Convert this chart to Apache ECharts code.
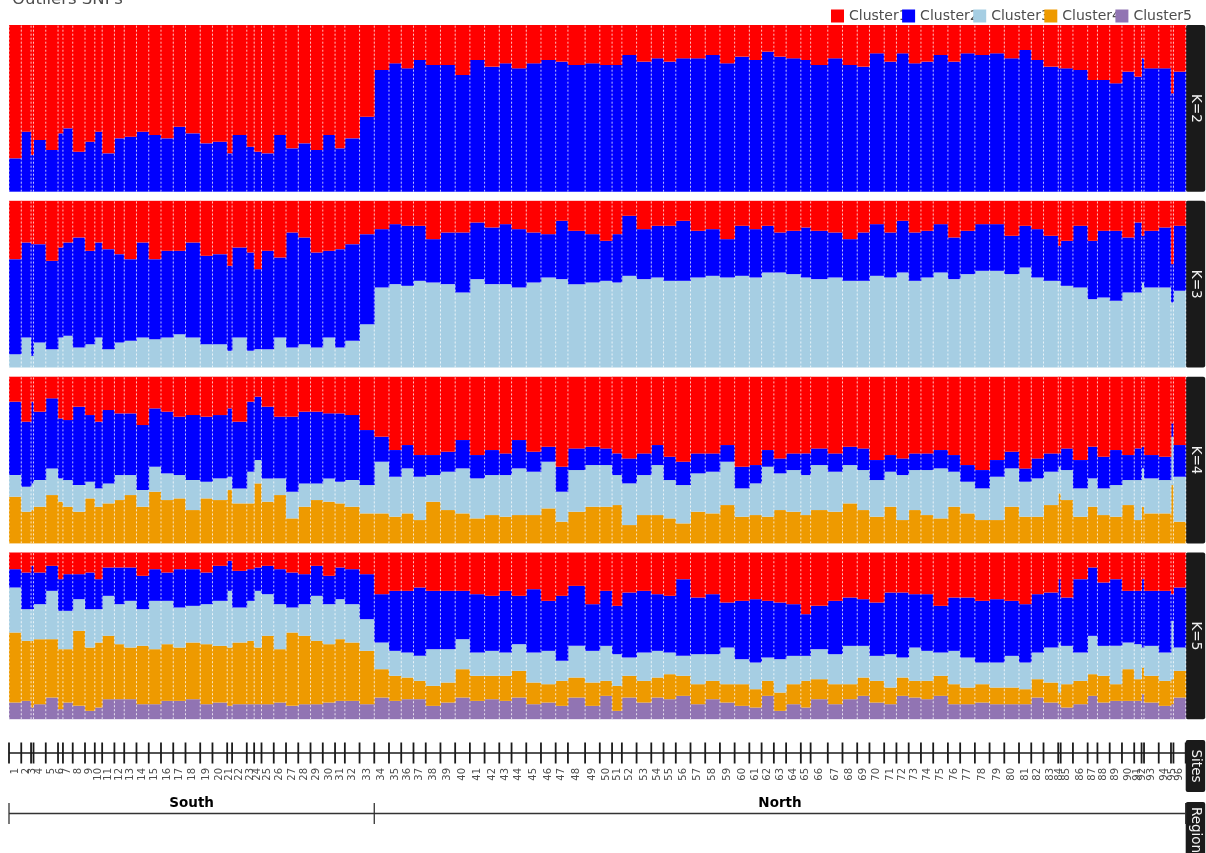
<!DOCTYPE html>
<html>
<head>
<meta charset="utf-8">
<script src="https://cdn.jsdelivr.net/npm/echarts@6/dist/echarts.min.js"></script>
<style>
  html, body { margin: 0; padding: 0; background: #ffffff; }
  #chart { width: 1206px; height: 853px; }
</style>
</head>
<body>
<div id="chart"></div>
<script>
// ---- Sites, sample sizes and regions ----
const siteLabels = ['1','2','3','4','5','6','7','8','9','10','11','12','13','14','15','16','17','18','19','20',
  '21','22','23','24','25','26','27','28','29','30','31','32','33','34','35','36','37','38','39','40',
  '41','42','43','44','45','46','47','48','49','50','51','52','53','54','55','56','57','58','59','60',
  '61','62','63','64','65','66','67','68','69','70','71','72','73','74','75','76','77','78','79','80',
  '81','82','83','84','85','86','87','88','89','90','91','92','93','94','95','96'];

// individuals sampled per site
const sampleSize = [5,4,1,5,5,2,4,5,4,3, 5,4,5,5,5,5,5,6,5,6, 2,6,3,3,5,5,5,5,5,5,
  4,6,6,6,5,5,5,6,6,6, 6,6,5,6,6,6,5,7,6,5, 4,6,6,5,5,6,6,6,6,6,
  5,5,5,6,4,7,6,6,5,6, 5,5,5,5,6,5,6,6,6,6, 5,5,6,1,5,6,4,5,5,5, 3,1,6,5,1,5];

const regionNames = ['South', 'North'];
const regionSiteCount = [33, 63];

const clusterNames = ['Cluster1', 'Cluster2', 'Cluster3', 'Cluster4', 'Cluster5'];
const panelLabels = ['K=2', 'K=3', 'K=4', 'K=5'];

// ---- Ancestry proportions per site ----
// K = 2
const k2Cluster1 = [.80,.64,.78,.69,.75,.65,.62,.76,.70,.64, .77,.68,.67,.64,.66,.68,.61,.65,.71,.70,
  .77,.66,.73,.76,.77,.66,.74,.71,.75,.66, .74,.68,.55,.27,.23,.26,.21,.24,.24,.30,
  .21,.25,.23,.26,.23,.21,.22,.24,.23,.24, .24,.18,.22,.20,.22,.20,.20,.18,.23,.19,
  .21,.16,.19,.20,.21,.24,.20,.24,.25,.17, .22,.17,.23,.22,.18,.22,.17,.18,.17,.20,
  .15,.21,.25,.26,.26,.27,.33,.33,.35,.28, .31,.20,.26,.26,.41,.28];
const k2Cluster2 = [.20,.36,.22,.31,.25,.35,.38,.24,.30,.36, .23,.32,.33,.36,.34,.32,.39,.35,.29,.30,
  .23,.34,.27,.24,.23,.34,.26,.29,.25,.34, .26,.32,.45,.73,.77,.74,.79,.76,.76,.70,
  .79,.75,.77,.74,.77,.79,.78,.76,.77,.76, .76,.82,.78,.80,.78,.80,.80,.82,.77,.81,
  .79,.84,.81,.80,.79,.76,.80,.76,.75,.83, .78,.83,.77,.78,.82,.78,.83,.82,.83,.80,
  .85,.79,.75,.74,.74,.73,.67,.67,.65,.72, .69,.80,.74,.74,.59,.72];

// K = 3
const k3Cluster1 = [.35,.25,.26,.26,.36,.28,.25,.22,.30,.25, .29,.32,.35,.25,.35,.30,.30,.25,.33,.32,
  .39,.28,.31,.41,.30,.34,.19,.22,.31,.30, .29,.26,.20,.17,.14,.15,.15,.23,.19,.19,
  .13,.16,.14,.17,.19,.20,.12,.18,.20,.24, .20,.09,.17,.15,.15,.12,.18,.17,.23,.15,
  .17,.15,.19,.18,.16,.18,.19,.23,.19,.14, .19,.12,.19,.18,.14,.22,.18,.14,.14,.21,
  .15,.17,.21,.27,.24,.15,.24,.18,.18,.22, .13,.21,.18,.16,.38,.15];
const k3Cluster2 = [.57,.57,.67,.59,.53,.54,.56,.66,.56,.57, .60,.53,.49,.57,.48,.52,.50,.57,.53,.54,
  .51,.54,.59,.48,.59,.48,.69,.64,.57,.52, .59,.58,.54,.35,.36,.36,.33,.26,.31,.36,
  .34,.34,.36,.35,.30,.26,.35,.32,.29,.24, .29,.36,.30,.31,.33,.36,.28,.28,.23,.30,
  .29,.28,.24,.26,.30,.29,.27,.25,.29,.31, .27,.31,.29,.28,.29,.25,.26,.28,.28,.23,
  .25,.29,.27,.21,.27,.37,.35,.40,.42,.33, .42,.28,.34,.36,.23,.39];
const k3Cluster3 = [.08,.18,.07,.15,.11,.18,.19,.12,.14,.18, .11,.15,.16,.18,.17,.18,.20,.18,.14,.14,
  .10,.18,.10,.11,.11,.18,.12,.14,.12,.18, .12,.16,.26,.48,.50,.49,.52,.51,.50,.45,
  .53,.50,.50,.48,.51,.54,.53,.50,.51,.52, .51,.55,.53,.54,.52,.52,.54,.55,.54,.55,
  .54,.57,.57,.56,.54,.53,.54,.52,.52,.55, .54,.57,.52,.54,.57,.53,.56,.58,.58,.56,
  .60,.54,.52,.52,.49,.48,.41,.42,.40,.45, .45,.51,.48,.48,.39,.46];

// K = 4
const k4Cluster1 = [.15,.27,.15,.21,.13,.25,.26,.18,.23,.27, .20,.22,.22,.29,.19,.21,.24,.23,.24,.23,
  .19,.27,.15,.12,.18,.24,.24,.21,.21,.22, .22,.23,.32,.36,.44,.41,.47,.47,.45,.38,
  .47,.44,.46,.38,.45,.42,.54,.43,.42,.43, .46,.49,.46,.41,.48,.51,.46,.46,.41,.54,
  .53,.44,.49,.46,.46,.43,.46,.42,.43,.50, .47,.49,.46,.46,.44,.47,.53,.56,.50,.45,
  .55,.49,.46,.46,.43,.50,.42,.48,.44,.47, .43,.42,.47,.48,.28,.41];
const k4Cluster2 = [.44,.39,.49,.41,.42,.36,.36,.47,.40,.40, .44,.37,.37,.39,.35,.37,.35,.39,.39,.38,
  .41,.40,.42,.38,.43,.37,.45,.43,.43,.39, .41,.39,.33,.15,.16,.14,.13,.12,.12,.17,
  .14,.15,.13,.17,.12,.09,.15,.13,.11,.10, .13,.15,.13,.12,.14,.14,.12,.11,.10,.13,
  .11,.10,.09,.10,.13,.10,.11,.11,.13,.12, .10,.10,.10,.10,.11,.10,.10,.11,.10,.10,
  .08,.12,.11,.08,.13,.17,.19,.19,.21,.15, .19,.13,.14,.14,.08,.19];
const k4Cluster3 = [.13,.15,.16,.16,.16,.14,.16,.16,.10,.11, .12,.15,.12,.10,.15,.16,.14,.18,.10,.13,
  .08,.09,.19,.14,.14,.10,.16,.14,.10,.14, .13,.16,.17,.31,.24,.27,.26,.16,.23,.27,
  .24,.24,.25,.28,.26,.28,.18,.25,.25,.25, .18,.25,.24,.30,.23,.23,.23,.25,.26,.17,
  .19,.30,.22,.25,.24,.27,.24,.23,.24,.22, .21,.27,.24,.27,.30,.21,.19,.19,.26,.23,
  .21,.23,.20,.16,.18,.17,.17,.16,.19,.15, .24,.23,.21,.20,.29,.27];
const k4Cluster4 = [.28,.19,.20,.22,.29,.25,.22,.19,.27,.22, .24,.26,.29,.22,.31,.26,.27,.20,.27,.26,
  .32,.24,.24,.36,.25,.29,.15,.22,.26,.25, .24,.22,.18,.18,.16,.18,.14,.25,.20,.18,
  .15,.17,.16,.17,.17,.21,.13,.19,.22,.22, .23,.11,.17,.17,.15,.12,.19,.18,.23,.16,
  .17,.16,.20,.19,.17,.20,.19,.24,.20,.16, .22,.14,.20,.17,.15,.22,.18,.14,.14,.22,
  .16,.16,.23,.30,.26,.16,.22,.17,.16,.23, .14,.22,.18,.18,.35,.13];

// K = 5
const k5Cluster1 = [.10,.12,.08,.12,.08,.16,.13,.13,.12,.16, .09,.09,.09,.14,.10,.12,.10,.10,.12,.08,
  .05,.11,.10,.09,.08,.10,.12,.13,.08,.14, .09,.10,.13,.25,.23,.23,.21,.23,.23,.23,
  .25,.26,.23,.26,.22,.29,.26,.20,.31,.23, .32,.24,.23,.25,.26,.16,.27,.25,.30,.29,
  .28,.29,.30,.31,.37,.32,.29,.27,.28,.30, .24,.24,.25,.25,.32,.27,.27,.29,.28,.29,
  .31,.25,.24,.16,.27,.16,.09,.18,.16,.23, .23,.16,.23,.23,.25,.21];
const k5Cluster2 = [.11,.22,.26,.19,.15,.19,.22,.15,.22,.18, .17,.22,.20,.20,.19,.17,.23,.22,.19,.21,
  .18,.22,.19,.14,.17,.21,.21,.18,.18,.17, .19,.21,.27,.29,.36,.37,.41,.35,.35,.29,
  .35,.33,.37,.29,.38,.30,.39,.36,.28,.33, .29,.39,.37,.34,.34,.46,.34,.36,.27,.35,
  .38,.34,.34,.31,.25,.26,.32,.29,.28,.32, .37,.39,.32,.34,.28,.32,.36,.37,.38,.33,
  .35,.35,.33,.38,.29,.44,.41,.38,.40,.31, .32,.41,.33,.37,.16,.36];
const k5Cluster3 = [.27,.19,.19,.21,.29,.23,.23,.19,.23,.20, .24,.24,.28,.22,.29,.26,.24,.22,.24,.27,
  .34,.21,.24,.34,.25,.27,.15,.19,.27,.24, .24,.23,.19,.16,.15,.15,.15,.22,.20,.18,
  .14,.15,.14,.16,.18,.20,.12,.19,.19,.21, .19,.11,.17,.16,.13,.12,.18,.16,.22,.15,
  .16,.14,.20,.17,.15,.18,.18,.23,.19,.15, .20,.12,.20,.18,.14,.20,.18,.13,.15,.19,
  .16,.16,.21,.30,.23,.17,.23,.18,.23,.16, .21,.12,.18,.17,.35,.14];
const k5Cluster4 = [.42,.36,.40,.39,.35,.36,.32,.45,.38,.39, .38,.33,.31,.35,.33,.34,.32,.34,.36,.34,
  .35,.37,.38,.34,.41,.32,.44,.41,.38,.35, .37,.35,.32,.17,.15,.13,.11,.12,.12,.17,
  .15,.14,.15,.16,.13,.11,.15,.12,.14,.09, .15,.13,.13,.12,.15,.12,.12,.11,.11,.13,
  .11,.09,.11,.12,.16,.12,.12,.09,.11,.13, .10,.11,.10,.11,.12,.12,.10,.11,.10,.10,
  .09,.11,.12,.07,.14,.14,.13,.16,.10,.19, .13,.16,.16,.15,.15,.16];
const k5Cluster5 = [.10,.11,.07,.09,.13,.06,.10,.08,.05,.07, .12,.12,.12,.09,.09,.11,.11,.12,.09,.10,
  .08,.09,.09,.09,.09,.10,.08,.09,.09,.10, .11,.11,.09,.13,.11,.12,.12,.08,.10,.13,
  .11,.12,.11,.13,.09,.10,.08,.13,.08,.14, .05,.13,.10,.13,.12,.14,.09,.12,.10,.08,
  .07,.14,.05,.09,.07,.12,.09,.12,.14,.10, .09,.14,.13,.12,.14,.09,.09,.10,.09,.09,
  .09,.13,.10,.09,.07,.09,.14,.10,.11,.11, .11,.15,.10,.08,.09,.13];

const panelClusters = [
  [k2Cluster1, k2Cluster2],
  [k3Cluster1, k3Cluster2, k3Cluster3],
  [k4Cluster1, k4Cluster2, k4Cluster3, k4Cluster4],
  [k5Cluster1, k5Cluster2, k5Cluster3, k5Cluster4, k5Cluster5]
];

// ---- Styling ----
const clusterColors = ['#FF0000', '#0000FF', '#A6CEE3', '#EE9A00', '#9174B3'];
const FONT = '"DejaVu Sans", "Liberation Sans", sans-serif';
const TEXT_GREY = '#4d4d4d';
const STRIP_FILL = '#1a1a1a';
const PLOT_LEFT = 9;
const PLOT_RIGHT = 20.3;
const STRIP_X = 1185.7;
const STRIP_W = 19.5;
const panelTop = [25, 200.8, 376.7, 552.5];
const PANEL_H = 166.7;

// ---- Derived x positions (cumulative individuals) ----
const siteStart = [];
let running = 0;
sampleSize.forEach(n => { siteStart.push(running); running += n; });
const totalN = running;
const siteBounds = siteStart.concat([totalN]);

const regionBounds = [0];
let siteCursor = 0;
regionSiteCount.forEach(count => {
  siteCursor += count;
  regionBounds.push(siteCursor < siteStart.length ? siteStart[siteCursor] : totalN);
});

// ---- Render helpers ----
function rectItem(params, api) {
  const tl = api.coord([api.value(0), api.value(3)]);
  const br = api.coord([api.value(1), api.value(2)]);
  return {
    type: 'rect',
    shape: { x: tl[0], y: tl[1], width: br[0] - tl[0] + 0.4, height: br[1] - tl[1] },
    style: { fill: api.visual('color') }
  };
}

function separatorItem(params, api) {
  const a = api.coord([api.value(0), 0]);
  const b = api.coord([api.value(0), 1]);
  return {
    type: 'line',
    shape: { x1: a[0], y1: a[1], x2: b[0], y2: b[1] },
    style: { stroke: 'rgba(255,255,255,0.75)', lineWidth: 1, lineDash: [2, 2] }
  };
}

function tickItem(width, color) {
  return function (params, api) {
    const a = api.coord([api.value(0), 0]);
    const b = api.coord([api.value(0), 1]);
    return {
      type: 'line',
      shape: { x1: a[0], y1: a[1], x2: b[0], y2: b[1] },
      style: { stroke: color, lineWidth: width }
    };
  };
}

function hLineItem(width, color) {
  return function (params, api) {
    const a = api.coord([api.value(0), 0.5]);
    const b = api.coord([api.value(1), 0.5]);
    return {
      type: 'line',
      shape: { x1: a[0], y1: a[1], x2: b[0], y2: b[1] },
      style: { stroke: color, lineWidth: width }
    };
  };
}

// ---- Grids & axes ----
const grids = [];
const xAxes = [];
const yAxes = [];
function addGrid(top, height) {
  grids.push({ left: PLOT_LEFT, right: PLOT_RIGHT, top: top, height: height, containLabel: false });
  const idx = grids.length - 1;
  xAxes.push({ type: 'value', gridIndex: idx, min: 0, max: totalN, show: false });
  yAxes.push({ type: 'value', gridIndex: idx, min: 0, max: 1, show: false });
  return idx;
}
panelTop.forEach(t => addGrid(t, PANEL_H));
const sitesGrid = addGrid(742.5, 21);
const regionGrid = addGrid(803, 21);

// ---- Series ----
const series = [];
panelClusters.forEach((clusters, p) => {
  const K = clusters.length;
  const totals = siteLabels.map((_, i) => clusters.reduce((s, arr) => s + arr[i], 0));
  const base = siteLabels.map(() => 0);
  for (let c = K - 1; c >= 0; c--) {
    const data = siteLabels.map((_, i) => {
      const y0 = base[i];
      const y1 = y0 + clusters[c][i] / totals[i];
      base[i] = y1;
      return [siteStart[i], siteStart[i] + sampleSize[i], y0, y1];
    });
    series.push({
      type: 'custom', name: clusterNames[c], xAxisIndex: p, yAxisIndex: p,
      itemStyle: { color: clusterColors[c] }, silent: true,
      renderItem: rectItem, data: data
    });
  }
  series.push({
    type: 'custom', xAxisIndex: p, yAxisIndex: p, silent: true, z: 5,
    renderItem: separatorItem, data: siteBounds.map(b => [b])
  });
});

// Sites strip: baseline, boundary ticks and rotated site numbers
series.push({
  type: 'custom', xAxisIndex: sitesGrid, yAxisIndex: sitesGrid, silent: true,
  renderItem: hLineItem(1.3, '#1a1a1a'), data: [[0, totalN]]
});
series.push({
  type: 'custom', xAxisIndex: sitesGrid, yAxisIndex: sitesGrid, silent: true,
  renderItem: tickItem(1.8, '#1a1a1a'), data: siteBounds.map(b => [b])
});
series.push({
  type: 'custom', xAxisIndex: sitesGrid, yAxisIndex: sitesGrid, silent: true,
  data: siteLabels.map((lab, i) => [siteStart[i] + sampleSize[i] / 2]),
  renderItem: function (params, api) {
    const pt = api.coord([api.value(0), 0]);
    return {
      type: 'text', x: pt[0], y: pt[1] + 4.5, rotation: Math.PI / 2,
      style: {
        text: siteLabels[params.dataIndex], align: 'right', verticalAlign: 'middle',
        fill: TEXT_GREY, font: '10px ' + FONT
      }
    };
  }
});

// Region strip: one bracket per region with a bold name above it
series.push({
  type: 'custom', xAxisIndex: regionGrid, yAxisIndex: regionGrid, silent: true,
  renderItem: hLineItem(1.3, '#333333'), data: [[0, totalN]]
});
series.push({
  type: 'custom', xAxisIndex: regionGrid, yAxisIndex: regionGrid, silent: true,
  renderItem: tickItem(1.3, '#333333'), data: regionBounds.map(b => [b])
});
series.push({
  type: 'custom', xAxisIndex: regionGrid, yAxisIndex: regionGrid, silent: true,
  data: regionNames.map((nm, i) => [(regionBounds[i] + regionBounds[i + 1]) / 2]),
  renderItem: function (params, api) {
    const pt = api.coord([api.value(0), 1]);
    return {
      type: 'text', x: pt[0], y: pt[1] + 0.5,
      style: {
        text: regionNames[params.dataIndex], align: 'center', verticalAlign: 'middle',
        fill: '#000000', font: 'bold 13.5px ' + FONT
      }
    };
  }
});

// ---- Facet strips on the right ----
const graphics = [];
function addStrip(y, h, label) {
  graphics.push({
    type: 'rect', left: STRIP_X, top: y, silent: true,
    shape: { width: STRIP_W, height: h, r: 2 },
    style: { fill: STRIP_FILL }
  });
  graphics.push({
    type: 'text', silent: true,
    x: STRIP_X + STRIP_W / 2, y: y + h / 2, rotation: -Math.PI / 2,
    style: {
      text: label, align: 'center', verticalAlign: 'middle',
      fill: '#f2f2f2', font: '13.5px ' + FONT
    }
  });
}
panelLabels.forEach((lab, p) => addStrip(panelTop[p], PANEL_H, lab));
addStrip(740, 52, 'Sites');
addStrip(802, 56, 'Region');

const chart = echarts.init(document.getElementById('chart'), null, { renderer: 'canvas' });
chart.setOption({
  animation: false,
  backgroundColor: '#ffffff',
  title: {
    text: 'Outliers SNPs', left: 7, top: -14,
    textStyle: { fontSize: 16.5, fontWeight: 'normal', color: TEXT_GREY, fontFamily: FONT }
  },
  legend: {
    data: clusterNames.map(n => ({ name: n, icon: 'rect' })),
    right: 9, top: 4, itemWidth: 13, itemHeight: 13, itemGap: -5.5,
    selectedMode: false,
    textStyle: { fontSize: 14, color: TEXT_GREY, fontFamily: FONT }
  },
  grid: grids,
  xAxis: xAxes,
  yAxis: yAxes,
  series: series,
  graphic: graphics
});
</script>
</body>
</html>
